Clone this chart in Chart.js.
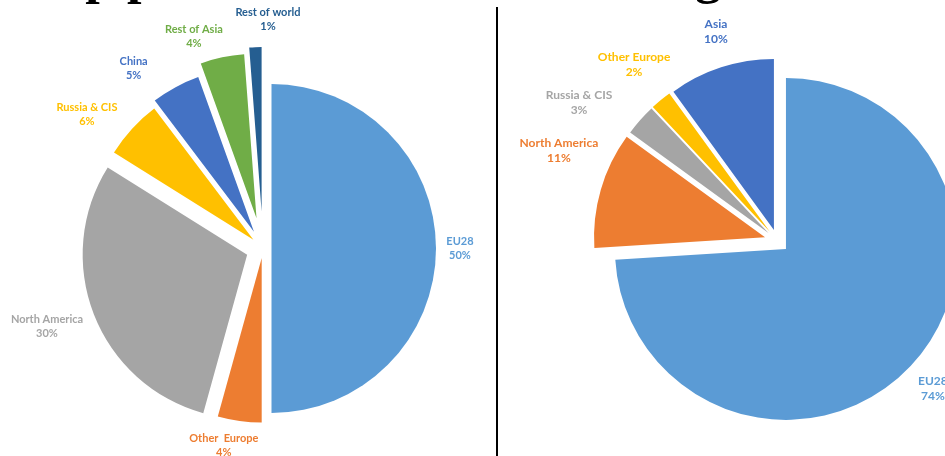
<!DOCTYPE html>
<html>
<head>
<meta charset="utf-8">
<script src="https://cdn.jsdelivr.net/npm/chart.js@4.4.1/dist/chart.umd.min.js"></script>
<style>
  html, body { margin: 0; padding: 0; background: #fff; }
  body { width: 945px; height: 456px; position: relative; overflow: hidden; }
  .box { position: absolute; }
  .title { position: absolute; top: -49px; font-family: "Liberation Serif", "Times New Roman", serif; font-weight: bold; font-size: 52px; line-height: 50px; white-space: nowrap; color: #000; }
  #divider { position: absolute; left: 496px; top: 7px; width: 2px; height: 449px; background: #000; z-index: 5; }
</style>
</head>
<body>
<div class="title" style="left:10px;">Pulp production</div>
<div class="title" style="left:617px;">Origin</div>
<div id="divider"></div>
<div class="box" id="leftBox" style="left:0px; top:0px; width:496px; height:456px;"><canvas id="leftChart"></canvas></div>
<div class="box" id="rightBox" style="left:498px; top:0px; width:447px; height:456px;"><canvas id="rightChart"></canvas></div>
<script>
// ---- Data (left pie) ----
const leftCategories = ["EU28", "Other  Europe", "North America", "Russia & CIS", "China", "Rest of Asia", "Rest of world"];
const leftValues = [50, 4.3, 29.6, 5.8, 4.8, 4.3, 1.2];

// ---- Data (right pie) ----
const rightCategories = ["EU28", "North America", "Russia & CIS", "Other Europe", "Asia"];
const rightValues = [74, 11, 3, 2, 10];

// ---- Styles ----
const leftColors = ["#5B9BD5", "#ED7D31", "#A5A5A5", "#FFC000", "#4472C4", "#70AD47", "#255E91"];
const rightColors = ["#5B9BD5", "#ED7D31", "#A5A5A5", "#FFC000", "#4472C4"];
const leftExplode = [8.5, 9.6, 17, 13, 19, 31, 37];
const rightExplode = [11.6, 13, 12, 12, 11.6];
// label placement: angle nudge (deg) from slice bisector, distance from pie centre (px)
const leftLabelNudge = [0, 3.5, 1.5, -5.3, -7.2, -6, 3.4];
const leftLabelDist = [197, 201, 229.5, 221, 222, 223, 229.6];
const rightLabelNudge = [0.4, 6.3, -6.5, 0.4, 1.6];
const rightLabelDist = [214.6, 236.6, 242, 227, 218];

const explodePlugin = {
  id: 'explode',
  afterDatasetsUpdate(chart, args, opts) {
    const meta = chart.getDatasetMeta(0);
    const ex = opts.amounts || [];
    meta.data.forEach((arc, i) => {
      const mid = (arc.startAngle + arc.endAngle) / 2;
      const d = ex[i] || 0;
      arc.x += Math.cos(mid) * d;
      arc.y += Math.sin(mid) * d;
    });
  }
};

const pieLabelPlugin = {
  id: 'pieLabels',
  afterDatasetsDraw(chart, args, opts) {
    const ctx = chart.ctx;
    const ca = chart.chartArea;
    const cx = (ca.left + ca.right) / 2;
    const cy = (ca.top + ca.bottom) / 2;
    const meta = chart.getDatasetMeta(0);
    const values = chart.data.datasets[0].data;
    const total = values.reduce((a, b) => a + b, 0);
    ctx.save();
    ctx.font = 'bold ' + opts.fontSize + 'px Lato, "Open Sans", sans-serif';
    ctx.textAlign = 'center';
    ctx.textBaseline = 'middle';
    meta.data.forEach((arc, i) => {
      const mid = (arc.startAngle + arc.endAngle) / 2 + (opts.nudge[i] || 0) * Math.PI / 180;
      const r = opts.dist[i];
      const x = cx + Math.cos(mid) * r;
      const y = cy + Math.sin(mid) * r;
      ctx.fillStyle = opts.colors[i];
      const pct = Math.round(values[i] / total * 100) + '%';
      ctx.fillText(chart.data.labels[i], x, y - opts.lineGap / 2);
      ctx.fillText(pct, x, y + opts.lineGap / 2);
    });
    ctx.restore();
  }
};

function makePie(id, labels, values, colors, radius, padding, explode, nudge, dist, fontSize, lineGap) {
  return new Chart(document.getElementById(id), {
    type: 'pie',
    data: {
      labels: labels,
      datasets: [{
        data: values,
        backgroundColor: colors,
        borderWidth: 0,
        radius: radius,
        clip: false
      }]
    },
    options: {
      responsive: true,
      maintainAspectRatio: false,
      animation: false,
      events: [],
      radius: radius,
      layout: { padding: padding },
      plugins: {
        legend: { display: false },
        tooltip: { enabled: false },
        explode: { amounts: explode },
        pieLabels: { nudge: nudge, dist: dist, colors: colors, fontSize: fontSize, lineGap: lineGap }
      }
    },
    plugins: [explodePlugin, pieLabelPlugin]
  });
}

makePie('leftChart', leftCategories, leftValues, leftColors, 164.5,
  { left: 30, right: 0, top: 41, bottom: 0 },
  leftExplode, leftLabelNudge, leftLabelDist, 11, 14);

makePie('rightChart', rightCategories, rightValues, rightColors, 171,
  { left: 112, right: 0, top: 26, bottom: 0 },
  rightExplode, rightLabelNudge, rightLabelDist, 12, 15);
</script>
</body>
</html>
